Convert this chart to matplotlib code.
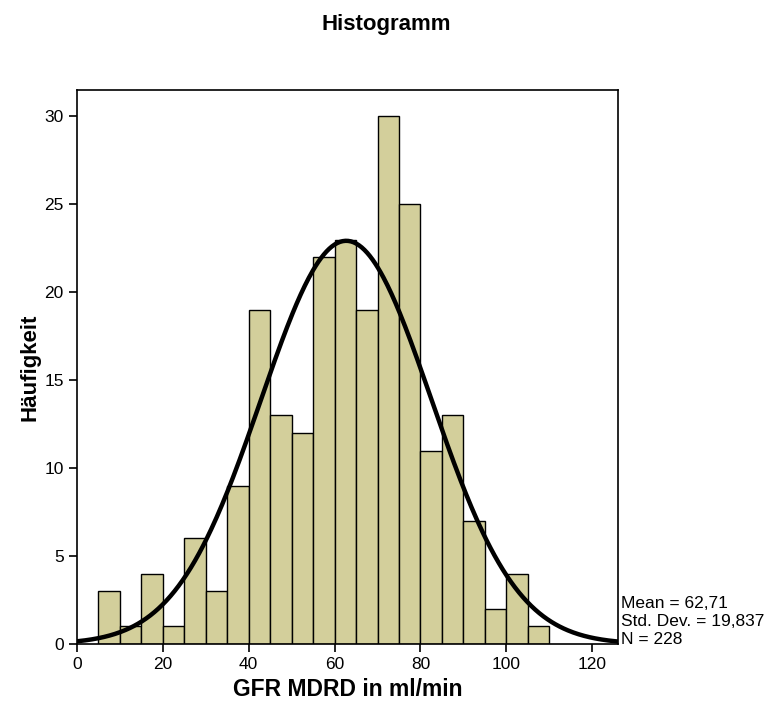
import numpy as np
import matplotlib
matplotlib.use('Agg')
import matplotlib.pyplot as plt

plt.rcParams['font.family'] = ['Liberation Sans', 'DejaVu Sans']

# bin edges (width 5) and counts
bin_left = [5, 10, 15, 20, 25, 30, 35, 40, 45, 50, 55, 60, 65, 70, 75, 80, 85, 90, 95, 100, 105]
counts = [3, 1, 4, 1, 6, 3, 9, 19, 13, 12, 22, 23, 19, 30, 25, 11, 13, 7, 2, 4, 1]
bin_width = 5
mean = 62.71
std = 19.837
n = 228

fig = plt.figure(figsize=(7.72, 7.11), dpi=100)
ax = fig.add_axes([0.0997, 0.0942, 0.7008, 0.7792])

ax.bar(bin_left, counts, width=bin_width, align='edge',
       color='#D3CF9B', edgecolor='black', linewidth=1.0, zorder=2)

xs = np.linspace(0, 126, 400)
pdf = n * bin_width / (std * np.sqrt(2 * np.pi)) * np.exp(-0.5 * ((xs - mean) / std) ** 2)
ax.plot(xs, pdf, color='black', linewidth=3.2, zorder=3)

ax.set_xlim(0, 126)
ax.set_ylim(0, 31.5)
ax.set_xticks([0, 20, 40, 60, 80, 100, 120])
ax.set_yticks([0, 5, 10, 15, 20, 25, 30])
ax.tick_params(direction='out', length=6, width=1.2, labelsize=12.5, top=False, right=False)
for s in ax.spines.values():
    s.set_linewidth(1.2)

ax.set_xlabel('GFR MDRD in ml/min', fontsize=16.5, fontweight='bold', labelpad=4)
ax.set_ylabel('Häufigkeit', fontsize=16, fontweight='bold', labelpad=3)
fig.text(0.5, 0.966, 'Histogramm', ha='center', va='center', fontsize=16, fontweight='bold')

ax.text(1.005, -0.005, f'Mean = 62,71\nStd. Dev. = 19,837\nN = {n}',
        transform=ax.transAxes, ha='left', va='bottom', fontsize=12.5, linespacing=1.25)

fig.savefig('out.png', dpi=100, facecolor='white')
